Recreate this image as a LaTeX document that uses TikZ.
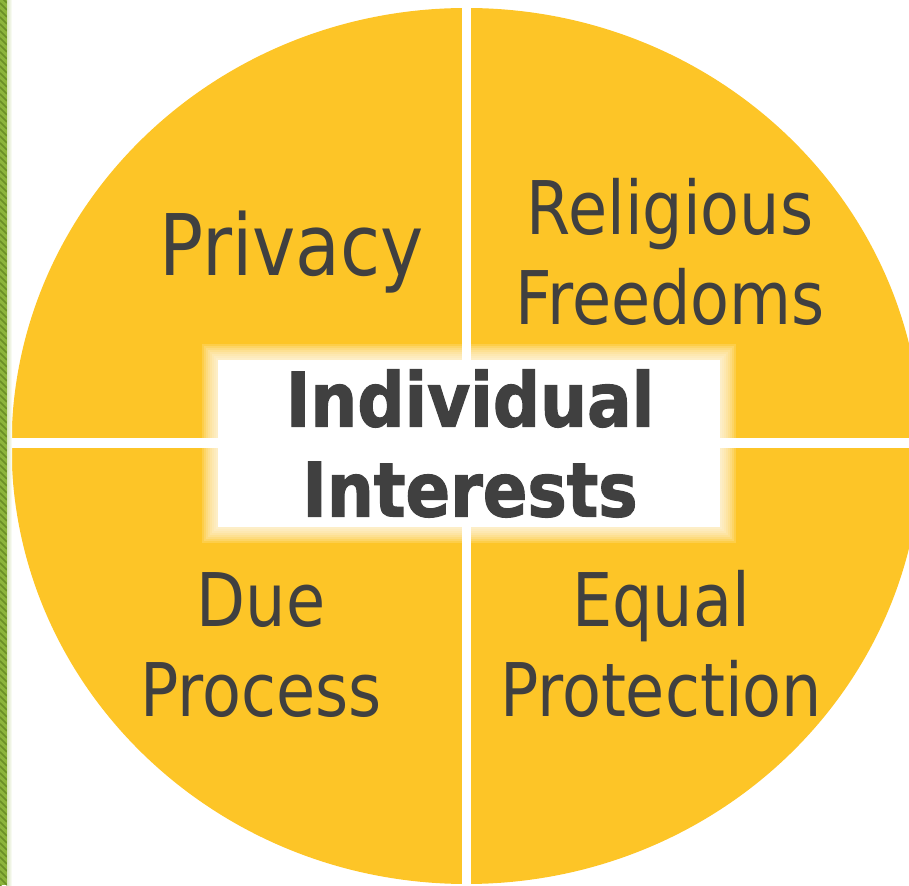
\documentclass[tikz,border=0pt]{standalone}
\usepackage{fontspec}
\newfontfamily\labelfont{DejaVu Sans}[FakeStretch=0.86]
\newfontfamily\titlefont{DejaVu Sans Bold}[FakeStretch=0.88, FakeBold=1.5]

\definecolor{pieyellow}{HTML}{FDC527}
\definecolor{labelgray}{HTML}{404040}
\definecolor{stripgreen}{HTML}{8CB43C}
\definecolor{stripdark}{HTML}{6A8F26}

\tikzset{
  quarter/.style={text=labelgray, align=center, inner sep=0pt, font=\labelfont\fontsize{74}{90}\selectfont},
  centre/.style={text=labelgray, align=center, inner sep=0pt, font=\titlefont\fontsize{75}{90}\selectfont},
}

\begin{document}
\begin{tikzpicture}[x=1pt, y=1pt]
\useasboundingbox (0,0) rectangle (909,885);

% the disc, cut by the page
\begin{scope}
\clip (0,0) rectangle (909,885);
\fill[pieyellow] (466.5,439) ellipse [x radius=455, y radius=438];
\end{scope}

% white cross
\fill[white] (462,0) rectangle (471,885);
\fill[white] (12,437.3) rectangle (909,447);

% soft white box in the middle
\foreach \g in {16,14,...,2}
  \fill[white, opacity=0.16] ({218-\g},{358-\g}) rectangle ({720+\g},{525+\g});
\fill[white] (218,358) rectangle (720,525);

% green edge on the left
\begin{scope}
\clip (0,0) rectangle (7,885);
\fill[stripgreen] (0,0) rectangle (7,885);
\foreach \y in {0,7,...,896}
  \draw[stripdark, line width=1.6] (0,\y) -- (7,\y-7);
\end{scope}
\shade[left color=stripgreen!35, right color=white] (7,0) rectangle (12,885);

\node[quarter, font=\labelfont\fontsize{85}{100}\selectfont, anchor=base] (privacy) at (291.5,609) {Privacy};
\node[quarter] (religious) at (670,633) {Religious\\Freedoms};
\node[quarter] (due) at (261,240) {Due\\Process};
\node[quarter] (equal) at (661,241) {Equal\\Protection};
\node[centre] (interests) at (470,441.5) {Individual\\Interests};

\end{tikzpicture}
\end{document}
